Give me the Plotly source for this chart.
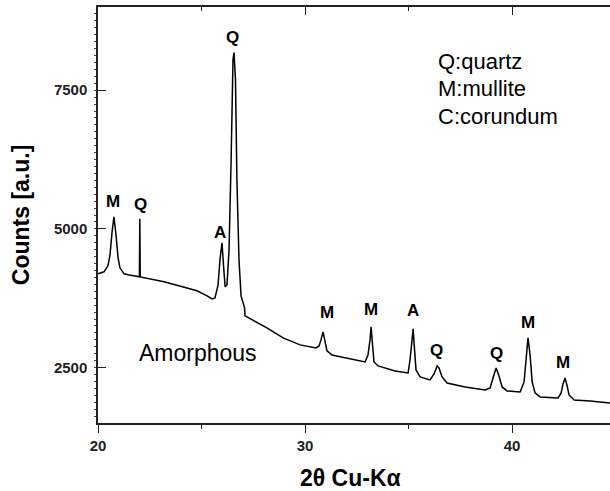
import plotly.graph_objects as go

two_theta = [20.00, 20.29, 20.48, 20.58, 20.68, 20.77, 20.87, 20.97, 21.06, 21.26, 21.45,
             22.00, 22.02, 22.04,
             23.19, 23.96, 24.78, 25.27, 25.51, 25.65, 25.80, 25.89, 25.99, 26.06, 26.14,
             26.23, 26.33, 26.43, 26.52, 26.57, 26.64, 26.71, 26.81, 26.91, 27.03, 27.08,
             27.10, 28.16, 28.94, 29.76, 30.53, 30.68, 30.77, 30.87, 30.97, 31.06, 31.30,
             32.17, 32.90, 33.04, 33.14, 33.19, 33.26, 33.33, 33.53, 34.35, 34.98, 35.07,
             35.17, 35.22, 35.29, 35.36, 35.56, 36.04, 36.23, 36.38, 36.47, 36.62, 36.86,
             37.73, 38.70, 38.94, 39.08, 39.23, 39.37, 39.52, 39.76, 40.39, 40.58, 40.68,
             40.77, 40.87, 40.97, 41.11, 41.35, 42.22, 42.37, 42.46, 42.56, 42.66, 42.75,
             43.00, 43.77, 44.73]
counts = [4190, 4226, 4334, 4532, 4948, 5218, 4893, 4478, 4298, 4189, 4171,
          4135, 5180, 4132,
          4045, 3973, 3883, 3792, 3738, 3756, 3991, 4442, 4749, 4352, 3955,
          3991, 4623, 6247, 8052, 8178, 7691, 5886, 4442, 3792, 3630, 3576,
          3431, 3215, 3034, 2908, 2854, 2890, 2998, 3143, 2962, 2800, 2727,
          2655, 2601, 2727, 2998, 3233, 2908, 2601, 2529, 2439, 2403, 2637,
          2998, 3197, 2818, 2457, 2330, 2276, 2384, 2529, 2493, 2330, 2222,
          2150, 2096, 2132, 2312, 2493, 2348, 2150, 2078, 2060, 2240, 2727,
          3034, 2727, 2240, 2042, 1970, 1951, 2042, 2204, 2312, 2168, 2005,
          1915, 1897, 1861]

# Peak labels
peak_labels = ["M", "Q", "A", "Q", "M", "M", "A", "Q", "Q", "M", "M"]
peak_label_x = [20.72, 22.03, 25.89, 26.52, 31.06, 33.19, 35.22, 36.33, 39.23, 40.77, 42.46]
peak_label_y = [5489, 5435, 4930, 8449, 3486, 3540, 3522, 2800, 2745, 3305, 2583]

legend_lines = ["Q:quartz", "M:mullite", "C:corundum"]
legend_y = [8016, 7529, 7023]
legend_x = 36.33

x_range = [20, 44.73]
y_range = [1500, 9000]
y_ticks = [2500, 5000, 7500]
x_ticks = [20, 30, 40]

FONT = "Liberation Sans, Arial, sans-serif"

fig = go.Figure()
fig.add_trace(go.Scatter(x=two_theta, y=counts, mode="lines",
                         line=dict(color="black", width=1.5), showlegend=False,
                         hoverinfo="skip"))
# invisible trace to activate top axis
fig.add_trace(go.Scatter(x=x_range, y=y_range, xaxis="x2", mode="lines",
                         line=dict(width=0), showlegend=False, hoverinfo="skip"))

annotations = []
for t, x, y in zip(peak_labels, peak_label_x, peak_label_y):
    annotations.append(dict(x=x, y=y, xref="x", yref="y", text=t, showarrow=False,
                            font=dict(family=FONT, size=17, color="black", weight="bold"),
                            xanchor="center", yanchor="middle"))
for t, y in zip(legend_lines, legend_y):
    annotations.append(dict(x=legend_x, y=y, xref="x", yref="y", text=t, showarrow=False,
                            font=dict(family=FONT, size=22, color="black"),
                            xanchor="left", yanchor="middle"))
annotations.append(dict(x=24.83, y=2764, xref="x", yref="y", text="Amorphous", showarrow=False,
                        font=dict(family=FONT, size=23, color="black"),
                        xanchor="center", yanchor="middle"))
annotations.append(dict(x=-0.150, y=0.5, xref="paper", yref="paper", text="Counts [a.u.]",
                        showarrow=False, textangle=-90,
                        font=dict(family=FONT, size=23, color="black", weight="bold"),
                        xanchor="center", yanchor="middle"))
annotations.append(dict(x=0.494, y=-0.132, xref="paper", yref="paper", text="2θ Cu-Kα",
                        showarrow=False,
                        font=dict(family=FONT, size=23, color="black", weight="bold"),
                        xanchor="center", yanchor="middle"))

fig.update_layout(
    width=610, height=491,
    margin=dict(l=98, r=0, t=7, b=68),
    paper_bgcolor="white", plot_bgcolor="white",
    xaxis=dict(range=x_range, tickvals=x_ticks, showgrid=False, zeroline=False,
               showline=True, linecolor="#222", linewidth=1.5,
               ticks="outside", ticklen=8, tickwidth=1.3, tickcolor="#222",
               tickfont=dict(family=FONT, size=15, color="#222", weight="bold"),
               minor=dict(dtick=5, tick0=20, ticks="outside", ticklen=4, tickwidth=1.2,
                          tickcolor="#222")),
    xaxis2=dict(range=x_range, overlaying="x", side="top", showgrid=False, zeroline=False,
                showline=True, linecolor="#222", linewidth=1.5, tickvals=x_ticks,
                ticks="inside", ticklen=8, tickwidth=1.3, tickcolor="#222",
                showticklabels=False,
                minor=dict(dtick=5, tick0=20, ticks="inside", ticklen=4, tickwidth=1.2,
                           tickcolor="#222")),
    yaxis=dict(range=y_range, tickvals=y_ticks, showgrid=False, zeroline=False,
               showline=True, linecolor="#222", linewidth=1.5,
               ticks="inside", ticklen=8, tickwidth=1.3, tickcolor="#222",
               ticklabelstandoff=6,
               tickfont=dict(family=FONT, size=15, color="#222", weight="bold"),
               minor=dict(dtick=125, tick0=0, ticks="outside", ticklen=2.5, tickwidth=1,
                          tickcolor="#444")),
    annotations=annotations,
)

fig.write_html("out.html")
